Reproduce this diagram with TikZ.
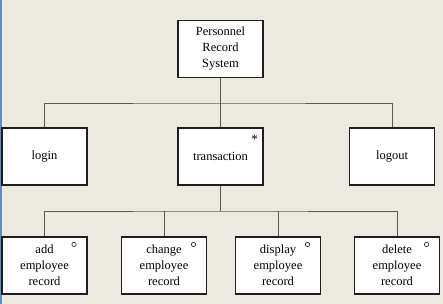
\documentclass[tikz,border=0pt]{standalone}
\usepackage{fontspec}
\setmainfont{Liberation Serif}
\usetikzlibrary{positioning,calc}
\definecolor{PRBack}{HTML}{ECE9DE}
\definecolor{PRStripe}{HTML}{5B8FD0}
\definecolor{PRLine}{HTML}{5A5A55}
\definecolor{PRFrame}{HTML}{1E1E1E}

\begin{document}
\begin{tikzpicture}[
    x=1pt,y=1pt,
    module/.style={draw=PRFrame, line width=1.1pt, fill=white,
      minimum width=85pt, minimum height=57pt, inner sep=2pt,
      align=center, font=\fontsize{12.5}{16}\selectfont},
    wire/.style={draw=PRLine, line width=0.9pt},
    optmark/.style={circle, draw=PRFrame, line width=0.6pt, fill=white,
      minimum size=4.4pt, inner sep=0pt}
  ]
    % background and left stripe
    \fill[PRBack] (0,0) rectangle (443,304);
    \fill[PRStripe] (0,0) rectangle (2,304);

    % top level
    \node[module] (sys) at (220.5,255) {Personnel\\Record\\System};

    % second level
    \node[module] (login) at (44.5,147.5) {login};
    \node[module] (trans) at (220.5,147.5) {transaction};
    \node[module] (logout) at (392,147.5) {logout};
    \node[font=\fontsize{13}{13}\selectfont, inner sep=0pt] (iter)
      at ($(trans.north east)+(-9,-12)$) {*};

    % third level
    \node[module] (add) at (44.5,38.5) {add\\employee\\record};
    \node[module] (change) at (164,38.5) {change\\employee\\record};
    \node[module] (display) at (278,38.5) {display\\employee\\record};
    \node[module] (delete) at (397,38.5) {delete\\employee\\record};
    \foreach \m in {add,change,display,delete}
      \node[optmark] (\m-opt) at ($(\m.north east)+(-13.5,-8)$) {};

    % connectors
    \coordinate (busA) at (220.5,201);
    \coordinate (busB) at (220.5,93);
    \draw[wire] (sys.south) -- (busA);
    \draw[wire] (login.north) |- (busA) -| (logout.north);
    \draw[wire] (busA) -- (trans.north);
    \draw[wire] (trans.south) -- (busB);
    \draw[wire] (add.north) |- (busB) -| (delete.north);
    \foreach \m in {change,display}
      \draw[wire] (\m.north) -- (\m.north |- busB);
  \end{tikzpicture}
\end{document}
